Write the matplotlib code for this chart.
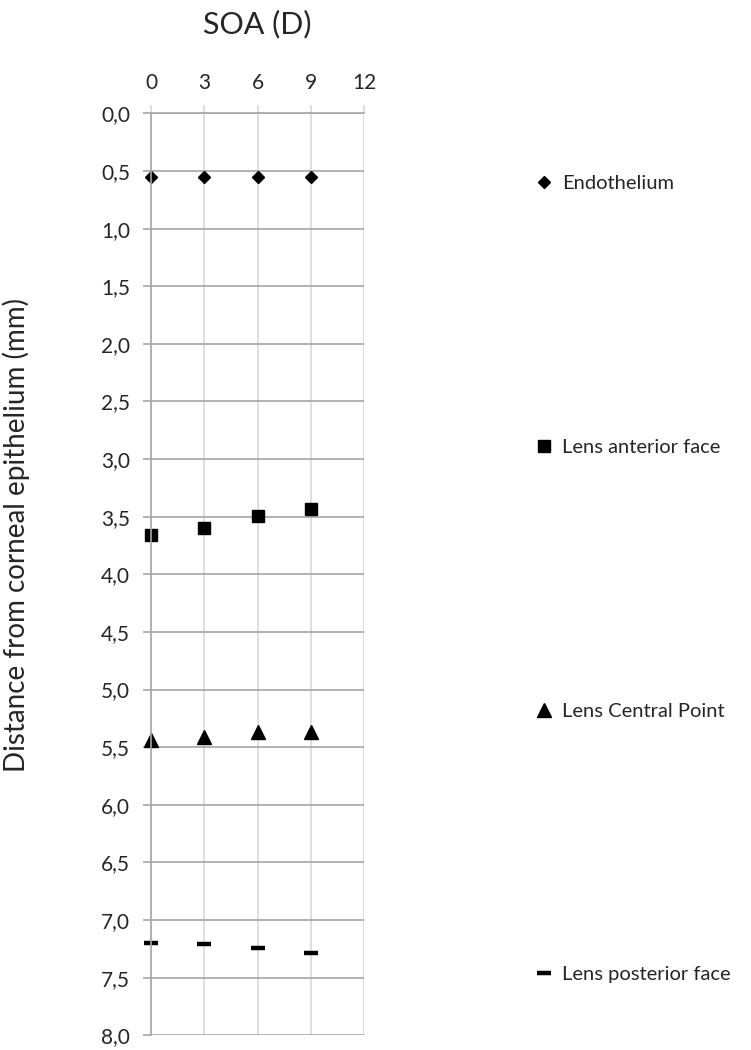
import matplotlib.pyplot as plt
from matplotlib.ticker import FuncFormatter

plt.rcParams['font.family'] = ['Lato', 'DejaVu Sans']

soa = [0, 3, 6, 9]
endothelium = [0.55, 0.55, 0.55, 0.55]
lens_anterior = [3.66, 3.60, 3.49, 3.43]
lens_central = [5.44, 5.41, 5.37, 5.37]
lens_posterior = [7.20, 7.21, 7.24, 7.29]

x_ticks = [0, 3, 6, 9, 12]
y_ticks = [i * 0.5 for i in range(17)]

fig = plt.figure(figsize=(7.51, 10.5), dpi=100)
ax = fig.add_axes([0.201, 0.014, 0.284, 0.878])

ax.plot(soa, endothelium, linestyle='none', marker='D', markersize=6.5,
        color='black', label='Endothelium', clip_on=False)
ax.plot(soa, lens_anterior, linestyle='none', marker='s', markersize=8.6,
        color='black', label='Lens anterior face', clip_on=False)
ax.plot(soa, lens_central, linestyle='none', marker='^', markersize=9.5,
        color='black', label='Lens Central Point', clip_on=False)
ax.plot(soa, lens_posterior, linestyle='none', marker='_', markersize=10.5,
        markeredgewidth=3.2, color='black', label='Lens posterior face',
        clip_on=False)

ax.set_xlim(0, 12)
ax.set_ylim(8, 0)
ax.set_xticks(x_ticks)
ax.set_yticks(y_ticks)
ax.yaxis.set_major_formatter(FuncFormatter(lambda v, p: f"{v:.1f}".replace('.', ',')))
ax.xaxis.tick_top()
ax.xaxis.set_label_position('top')

ax.grid(axis='y', color='#a6a6a6', linewidth=1.2)
ax.grid(axis='x', color='#d9d9d9', linewidth=1.2)
ax.set_axisbelow(True)
for s in ['right', 'bottom']:
    ax.spines[s].set_visible(False)
ax.spines['left'].set_color('#a6a6a6')
ax.spines['top'].set_color('#a6a6a6')
ax.spines['left'].set_linewidth(1.2)
ax.spines['top'].set_linewidth(1.2)
ax.tick_params(axis='y', length=6, color='#a6a6a6', width=1.2, pad=9,
               labelsize=15, labelcolor='#262626')
ax.tick_params(axis='x', length=6, color='#d9d9d9', width=1.2, pad=9,
               labelsize=15, labelcolor='#262626')

ax.set_xlabel('SOA (D)', fontsize=22, labelpad=28, color='#262626')
fig.text(0.022, 0.49, 'Distance from corneal epithelium (mm)', rotation=90,
         fontsize=20, color='#262626', ha='center', va='center')

fig.legend(loc='upper left', bbox_to_anchor=(0.703, 0.843), frameon=False,
           fontsize=14.5, labelspacing=12.25, handlelength=0.6, handletextpad=0.6,
           borderpad=0, labelcolor='#262626')

plt.savefig('out.png', dpi=100)
